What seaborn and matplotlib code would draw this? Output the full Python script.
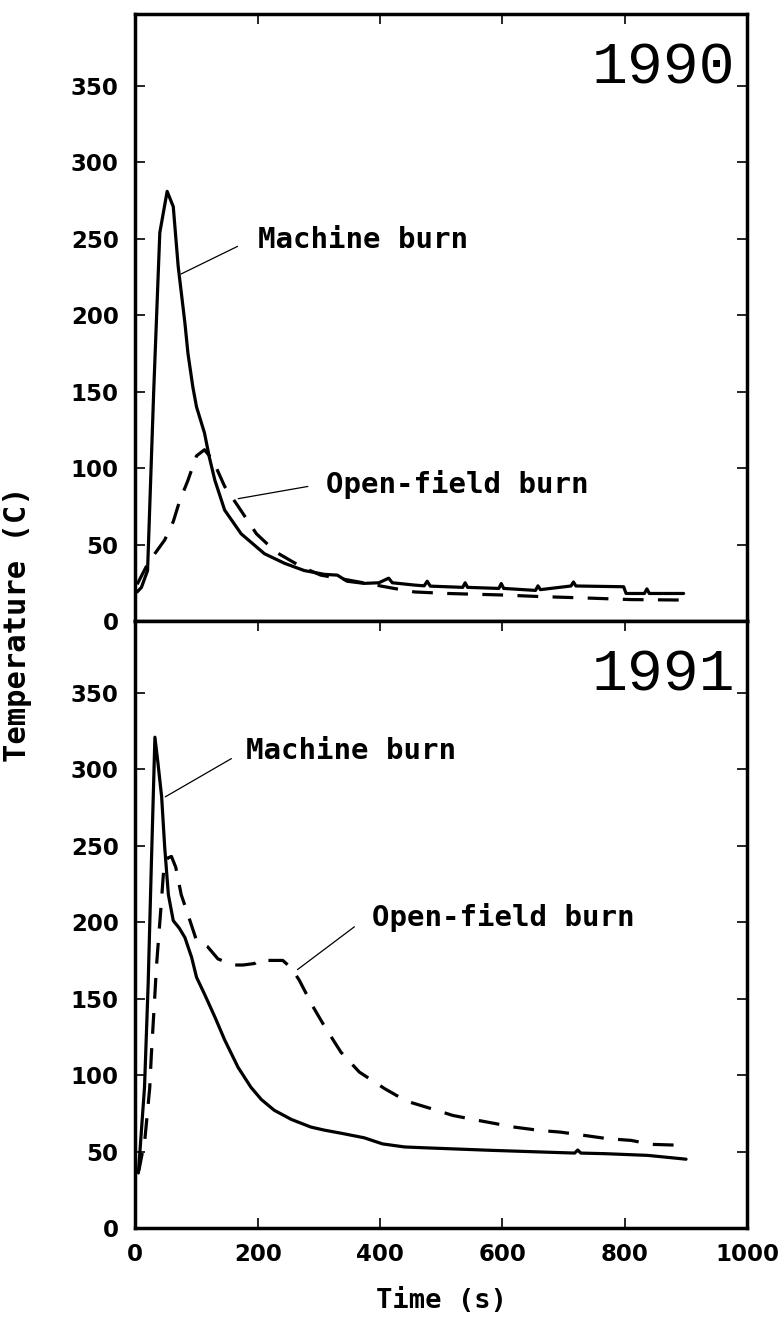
import matplotlib
matplotlib.use("Agg")
import matplotlib.pyplot as plt
import numpy as np
import pandas as pd
import seaborn as sns

# 1990 burn, machine (solid) and open-field (dashed)
t_mach_90 = [3, 10, 20, 30, 40, 52, 62, 70, 81, 86, 94, 100, 113, 121, 130, 146, 173, 211, 244, 276,
             309, 330, 346, 374, 398, 414, 420, 456, 472, 477, 482, 535, 539, 543, 594, 598, 602,
             654, 658, 662, 712, 716, 720, 798, 802, 832, 836, 840, 896]
T_mach_90 = [19, 22, 33, 150, 254, 281, 271, 232, 195, 175, 153, 140, 123, 107, 92, 72.5, 57, 44, 37.7, 33,
             30.5, 30, 26, 24.6, 25, 28, 25, 23.5, 23, 26, 22.8, 22, 25, 22, 21.3, 24.5, 21.3,
             20, 23, 20.5, 22.9, 25.5, 22.9, 22.4, 18, 18, 21, 18, 18]
t_open_90 = [3, 21, 48, 62, 72, 86, 100, 113, 127, 146, 168, 198, 230, 271, 303, 345, 420, 456,
             510, 600, 660, 740, 810, 896]
T_open_90 = [24, 38, 53, 65, 78, 92, 108, 112, 105, 88, 75, 57, 45, 35.5, 30, 27, 21.5, 19,
             18, 17, 16, 15, 14, 13.7]

# 1991 burn
t_mach_91 = [5, 15, 21, 26, 32, 37, 43, 48, 54, 62, 72, 81, 92, 100, 113, 130, 146, 168, 189, 206,
             227, 255, 287, 309, 336, 374, 404, 440, 470, 581, 664, 718, 723, 728, 768, 837, 900]
T_mach_91 = [36, 92, 160, 235, 321, 304, 282, 249, 218, 201, 196, 190, 177, 164, 153, 138, 123, 105, 92, 84,
             77, 71, 66, 64, 62, 59, 55, 53, 52.5, 50.8, 49.7, 49, 51, 49, 48.6, 47.5, 45]
t_open_91 = [3, 6, 15.5, 23.6, 26, 32, 34.5, 42.7, 47, 53, 59, 66, 75, 86, 100, 118, 135, 160, 176,
             195, 205, 211, 241, 255, 268, 290, 309, 336, 366, 408, 443, 484, 519, 560, 619, 661,
             695, 733, 772, 810, 844, 900]
T_open_91 = [36, 38, 57.5, 92, 112, 153, 171, 214, 238, 242, 243, 236, 218, 205, 188, 184, 176, 172, 172,
             173, 176, 175, 175, 170, 162, 145, 132, 115, 102, 91, 83, 78, 73.6, 70.4, 66, 63.8,
             62.7, 60.6, 58.4, 57.3, 54.7, 54]

years = ["1990", "1991"]
series = [(t_mach_90, T_mach_90, t_open_90, T_open_90),
          (t_mach_91, T_mach_91, t_open_91, T_open_91)]
# annotation positions: (text x, text y, line start, line end) in data units
mach_notes = [((200, 249), (75, 227), (167, 245)), ((181, 312), (49, 282), (157, 307))]
open_notes = [((312, 89), (168, 80), (282, 88)), ((387, 203), (265, 169), (358, 197))]

sns.set_style("ticks")
plt.rcParams['font.family'] = ['DejaVu Sans Mono', 'DejaVu Sans']
plt.rcParams['font.weight'] = 'bold'
for k in ['text.color', 'axes.edgecolor', 'axes.labelcolor', 'xtick.color', 'ytick.color']:
    plt.rcParams[k] = 'black'

fig, axes = plt.subplots(2, 1, sharex=True, figsize=(7.8, 13.2), dpi=100)
fig.subplots_adjust(left=0.1735, right=0.958, top=0.9894, bottom=0.0697, hspace=0)

for i, ax in enumerate(axes):
    tm, Tm, to, To = series[i]
    df_m = pd.DataFrame({"t": tm, "T": Tm})
    df_o = pd.DataFrame({"t": to, "T": To})
    sns.lineplot(data=df_m, x="t", y="T", ax=ax, color="black", lw=2.3, sort=False)
    sns.lineplot(data=df_o, x="t", y="T", ax=ax, color="black", lw=2.3, sort=False,
                 linestyle=(0, (6.5, 4.5)))
    ax.set_xlim(0, 1000)
    ax.set_ylim(0, 397)
    ax.set_yticks(np.arange(0, 351, 50))
    ax.set_xticks(np.arange(0, 1001, 200))
    for s in ax.spines.values():
        s.set_linewidth(2.5)
        s.set_visible(True)
    ax.tick_params(direction="in", length=7, width=1.2, left=True, right=True, top=True,
                   bottom=(i == 1))
    ax.tick_params(axis="y", pad=12)
    for lab in ax.get_yticklabels() + ax.get_xticklabels():
        lab.set_fontfamily("DejaVu Sans")
        lab.set_fontweight("bold")
        lab.set_fontsize(16.5)
    ax.set_ylabel("")
    ax.set_xlabel("")
    ax.text(980, 362, years[i], ha="right", va="center", fontsize=43,
            family="Liberation Mono", fontweight="normal")
    (tx, ty), p0, p1 = mach_notes[i]
    ax.plot([p0[0], p1[0]], [p0[1], p1[1]], color="black", lw=0.9)
    ax.text(tx, ty, "Machine burn", ha="left", va="center", fontsize=21, fontweight="bold")
    (tx, ty), p0, p1 = open_notes[i]
    ax.plot([p0[0], p1[0]], [p0[1], p1[1]], color="black", lw=0.9)
    ax.text(tx, ty, "Open-field burn", ha="left", va="center", fontsize=21, fontweight="bold")

axes[0].tick_params(labelbottom=False)
axes[1].tick_params(axis="x", pad=11)
axes[1].set_xlabel("Time (s)", fontsize=19.5, fontweight="bold", labelpad=16)
fig.text(0.023, 0.527, "Temperature (C)", rotation=90, ha="center", va="center",
         fontsize=22, fontweight="bold")

fig.savefig("out.png", dpi=100)
